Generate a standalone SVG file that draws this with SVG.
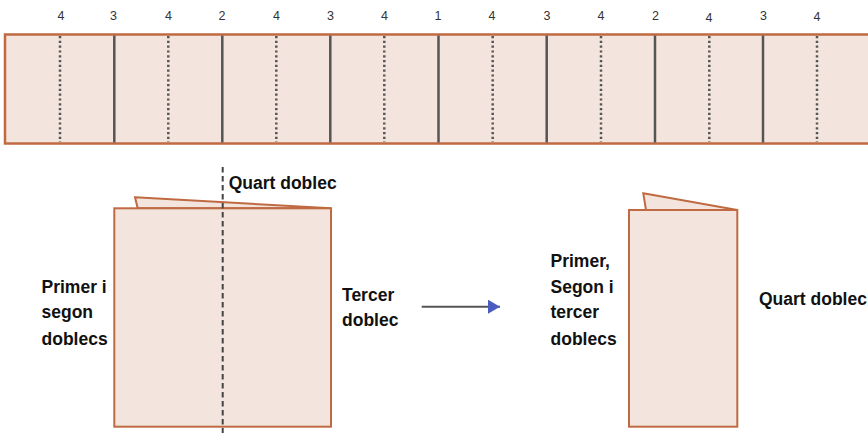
<svg xmlns="http://www.w3.org/2000/svg" width="868" height="433" viewBox="0 0 868 433">
<style>
.paper{fill:#f3e5dd;stroke:#c06a42;stroke-width:2}
.strip{stroke-width:2.5}
.fold{stroke:#555;stroke-width:2.5}
.dot{stroke:#555;stroke-width:2.5;stroke-dasharray:2.2 2.6}
.num{font-family:"Liberation Sans",Arial,sans-serif;font-size:12.5px;fill:#333;text-anchor:middle}
.lbl{font-family:"Liberation Sans",Arial,sans-serif;font-size:17.5px;font-weight:bold;fill:#111}
</style>
<defs>
<marker id="ah" markerWidth="12" markerHeight="14" refX="12" refY="7" orient="auto" markerUnits="userSpaceOnUse">
<path d="M0,0 L12,7 L0,14 Z" fill="#4a5cc0"/>
</marker>
</defs>
<rect width="868" height="433" fill="#fff"/>
<g id="strip">
<rect class="paper strip" x="5" y="34.5" width="880" height="109"/>
<g class="dots">
<line class="dot" x1="60" y1="36" x2="60" y2="142"/>
<line class="dot" x1="168.3" y1="36" x2="168.3" y2="142"/>
<line class="dot" x1="276.3" y1="36" x2="276.3" y2="142"/>
<line class="dot" x1="384.3" y1="36" x2="384.3" y2="142"/>
<line class="dot" x1="492.7" y1="36" x2="492.7" y2="142"/>
<line class="dot" x1="601" y1="36" x2="601" y2="142"/>
<line class="dot" x1="709.3" y1="36" x2="709.3" y2="142"/>
<line class="dot" x1="817" y1="36" x2="817" y2="142"/>
</g>
<g class="solids">
<line class="fold" x1="114.3" y1="35.5" x2="114.3" y2="142.5"/>
<line class="fold" x1="222.3" y1="35.5" x2="222.3" y2="142.5"/>
<line class="fold" x1="330.3" y1="35.5" x2="330.3" y2="142.5"/>
<line class="fold" x1="438.5" y1="35.5" x2="438.5" y2="142.5"/>
<line class="fold" x1="546.7" y1="35.5" x2="546.7" y2="142.5"/>
<line class="fold" x1="655" y1="35.5" x2="655" y2="142.5"/>
<line class="fold" x1="763" y1="35.5" x2="763" y2="142.5"/>
</g>
<g class="nums">
<text class="num" x="61" y="20">4</text>
<text class="num" x="113.5" y="19.5">3</text>
<text class="num" x="168.5" y="20">4</text>
<text class="num" x="222" y="20">2</text>
<text class="num" x="276.5" y="20">4</text>
<text class="num" x="330.5" y="19.5">3</text>
<text class="num" x="384.5" y="20">4</text>
<text class="num" x="438" y="19.5">1</text>
<text class="num" x="492" y="20">4</text>
<text class="num" x="547" y="19.5">3</text>
<text class="num" x="601" y="20">4</text>
<text class="num" x="655.5" y="19.5">2</text>
<text class="num" x="709" y="21.5">4</text>
<text class="num" x="763.5" y="19.5">3</text>
<text class="num" x="817" y="20.5">4</text>
</g>
</g>
<g id="folded1">
<polygon class="paper" points="135,197.3 331,208.3 137.7,208.3"/>
<rect class="paper" x="114.3" y="208.3" width="216.7" height="218.4"/>
<line x1="222.7" y1="167" x2="222.7" y2="433" stroke="#444" stroke-width="2" stroke-dasharray="5.5 3.5"/>
<text class="lbl" x="228.7" y="188.5">Quart doblec</text>
<text class="lbl"><tspan x="41.5" y="292.5">Primer i</tspan><tspan x="41.5" y="318">segon</tspan><tspan x="41.5" y="344.5">doblecs</tspan></text>
<text class="lbl"><tspan x="342" y="300.5">Tercer</tspan><tspan x="342" y="326">doblec</tspan></text>
</g>
<g id="connectors">
<line x1="421.7" y1="306.7" x2="500" y2="306.7" stroke="#555" stroke-width="2" marker-end="url(#ah)"/>
</g>
<g id="folded2">
<polygon class="paper" points="643.3,193.3 737.3,210 646,210"/>
<rect class="paper" x="629" y="210" width="108.3" height="216.7"/>
<text class="lbl"><tspan x="550.5" y="266.5">Primer,</tspan><tspan x="550.5" y="292.5">Segon i</tspan><tspan x="550.5" y="318">tercer</tspan><tspan x="550.5" y="344.5">doblecs</tspan></text>
<text class="lbl" x="759" y="304.5">Quart doblec</text>
</g>
</svg>
